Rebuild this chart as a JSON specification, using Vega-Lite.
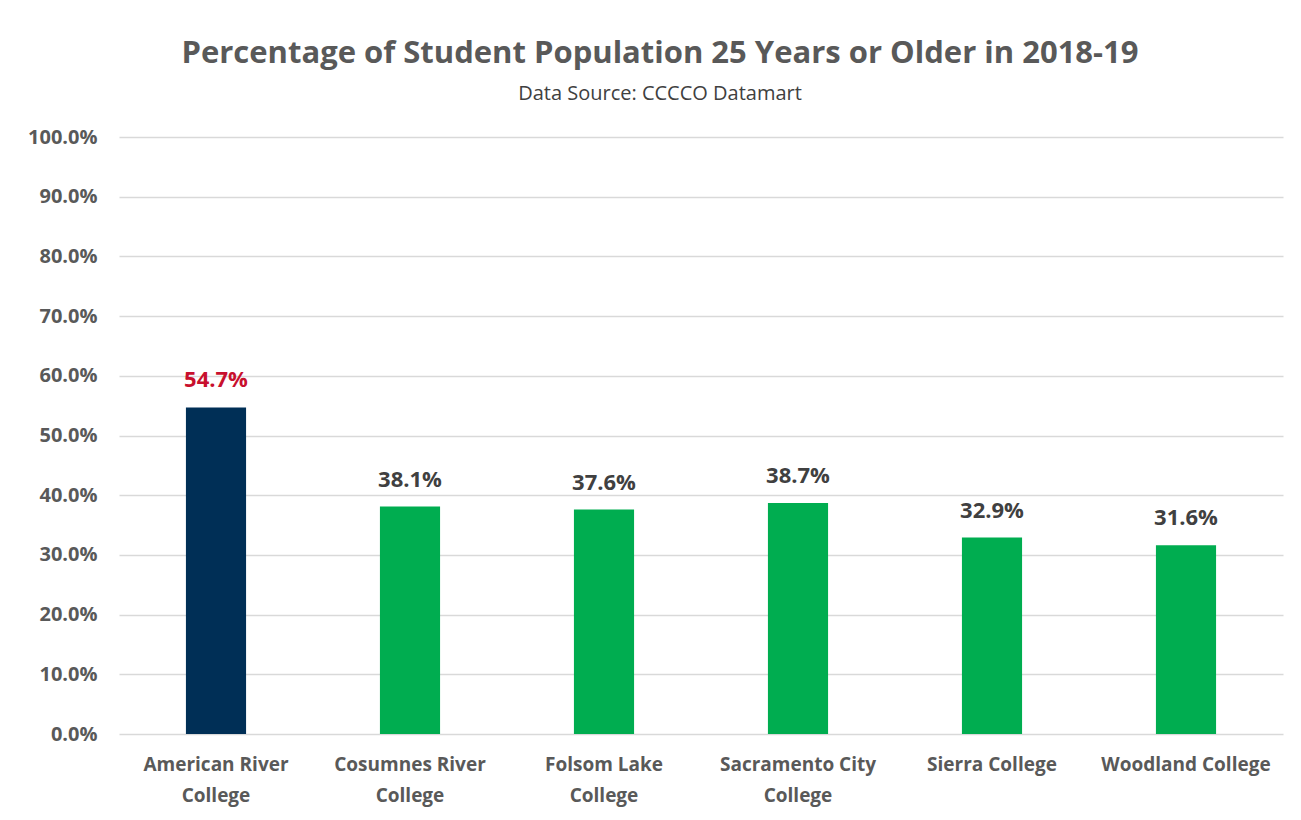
{
  "$schema": "https://vega.github.io/schema/vega-lite/v6.json",
  "autosize": "none",
  "width": 1164,
  "height": 597,
  "padding": {"left": 119, "top": 137, "right": 18, "bottom": 86},
  "background": "white",
  "title": {
    "text": "Percentage of Student Population 25 Years or Older in 2018-19",
    "subtitle": "Data Source: CCCCO Datamart",
    "anchor": "middle",
    "dx": -41,
    "offset": 22,
    "font": "Open Sans",
    "fontSize": 31,
    "fontWeight": "bold",
    "color": "#595959",
    "subtitleFont": "Open Sans",
    "subtitleFontSize": 20,
    "subtitleColor": "#404040",
    "subtitlePadding": 14
  },
  "data": {
    "values": [
      {"college": "American River College", "pct": 0.547, "highlight": "yes"},
      {"college": "Cosumnes River College", "pct": 0.381, "highlight": "no"},
      {"college": "Folsom Lake College", "pct": 0.376, "highlight": "no"},
      {"college": "Sacramento City College", "pct": 0.387, "highlight": "no"},
      {"college": "Sierra College", "pct": 0.329, "highlight": "no"},
      {"college": "Woodland College", "pct": 0.316, "highlight": "no"}
    ]
  },
  "encoding": {
    "x": {
      "field": "college",
      "type": "nominal",
      "sort": null,
      "scale": {"paddingInner": 0.69, "paddingOuter": 0.345},
      "axis": {
        "title": null,
        "labelAngle": 0,
        "labelFont": "Open Sans",
        "labelFontSize": 19,
        "labelFontWeight": "bold",
        "labelColor": "#595959",
        "labelPadding": 21,
        "labelLineHeight": 31,
        "labelBaseline": "top",
        "labelLimit": 300,
        "domain": false,
        "ticks": false,
        "labelExpr": "datum.value == 'American River College' ? ['American River', 'College'] : datum.value == 'Cosumnes River College' ? ['Cosumnes River', 'College'] : datum.value == 'Folsom Lake College' ? ['Folsom Lake', 'College'] : datum.value == 'Sacramento City College' ? ['Sacramento City', 'College'] : datum.value"
      }
    },
    "y": {
      "field": "pct",
      "type": "quantitative",
      "scale": {"domain": [0, 1]},
      "axis": {
        "title": null,
        "format": ".1%",
        "values": [0, 0.1, 0.2, 0.3, 0.4, 0.5, 0.6, 0.7, 0.8, 0.9, 1.0],
        "labelFont": "Open Sans",
        "labelFontSize": 20,
        "labelFontWeight": "bold",
        "labelColor": "#595959",
        "labelPadding": 22,
        "domain": false,
        "ticks": false,
        "gridColor": "#D9D9D9",
        "gridWidth": 1.5
      }
    }
  },
  "layer": [
    {
      "mark": {"type": "bar"},
      "encoding": {
        "color": {
          "field": "highlight",
          "type": "nominal",
          "scale": {"domain": ["yes", "no"], "range": ["#002F56", "#00AD50"]},
          "legend": null
        }
      }
    },
    {
      "mark": {"type": "text", "baseline": "alphabetic", "dy": -20, "font": "Open Sans", "fontSize": 22, "fontWeight": "bold"},
      "encoding": {
        "text": {"field": "pct", "type": "quantitative", "format": ".1%"},
        "color": {
          "field": "highlight",
          "type": "nominal",
          "scale": {"domain": ["yes", "no"], "range": ["#C8102E", "#404040"]},
          "legend": null
        }
      }
    }
  ],
  "resolve": {"scale": {"color": "independent"}},
  "config": {"view": {"stroke": null}}
}
